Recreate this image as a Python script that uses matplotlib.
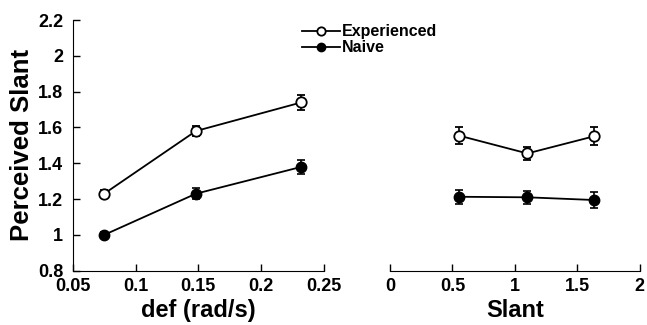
import matplotlib.pyplot as plt
from matplotlib.lines import Line2D

plt.rcParams['font.family'] = ['Liberation Sans', 'DejaVu Sans']
plt.rcParams['font.weight'] = 'bold'

# left panel: deformation
defs = [0.075, 0.148, 0.232]
exp_def = [1.23, 1.58, 1.74]
exp_def_err = [0.02, 0.03, 0.04]
nai_def = [1.00, 1.23, 1.38]
nai_def_err = [0.015, 0.03, 0.04]

# right panel: slant
slants = [0.55, 1.10, 1.63]
exp_sl = [1.555, 1.455, 1.55]
exp_sl_err = [0.045, 0.035, 0.05]
nai_sl = [1.213, 1.21, 1.195]
nai_sl_err = [0.04, 0.035, 0.045]

xt1 = [0.05, 0.1, 0.15, 0.2, 0.25]
xt1_lab = ['0.05', '0.1', '0.15', '0.2', '0.25']
yt = [0.8, 1, 1.2, 1.4, 1.6, 1.8, 2, 2.2]
yt_lab = ['0.8', '1', '1.2', '1.4', '1.6', '1.8', '2', '2.2']
xt2 = [0, 0.5, 1, 1.5, 2]
xt2_lab = ['0', '0.5', '1', '1.5', '2']

fig = plt.figure(figsize=(6.47, 3.25), dpi=100)
ax1 = fig.add_axes([0.1124, 0.167, 0.3884, 0.7714])
ax2 = fig.add_axes([0.6028, 0.167, 0.386, 0.7714])

mk = dict(color='black', lw=1.3, ms=7.5, capsize=3, elinewidth=1.2, capthick=1.2)

ax1.errorbar(defs, exp_def, yerr=exp_def_err, marker='o', mfc='white', mec='black', mew=1.3, **mk)
ax1.errorbar(defs, nai_def, yerr=nai_def_err, marker='o', mfc='black', mec='black', **mk)
ax2.errorbar(slants, exp_sl, yerr=exp_sl_err, marker='o', mfc='white', mec='black', mew=1.3, **mk)
ax2.errorbar(slants, nai_sl, yerr=nai_sl_err, marker='o', mfc='black', mec='black', **mk)

ax1.set_xlim(0.05, 0.25)
ax1.set_ylim(0.8, 2.2)
ax1.set_xticks(xt1)
ax1.set_xticklabels(xt1_lab, fontweight='bold', fontsize=13)
ax1.set_yticks(yt)
ax1.set_yticklabels(yt_lab, fontweight='bold', fontsize=13)
ax1.spines['top'].set_visible(False)
ax1.spines['right'].set_visible(False)
ax1.tick_params(direction='in', length=5, width=1)
ax1.tick_params(axis='x', pad=5)
ax1.tick_params(axis='y', pad=7)
ax1.set_xlabel('def (rad/s)', fontsize=17, fontweight='bold', labelpad=3)
ax1.set_ylabel('Perceived Slant', fontsize=18.5, fontweight='bold', labelpad=3)

ax2.set_xlim(0, 2)
ax2.set_ylim(0.8, 2.2)
ax2.set_xticks(xt2)
ax2.set_xticklabels(xt2_lab, fontweight='bold', fontsize=13)
ax2.set_yticks([])
for s in ['top', 'right', 'left']:
    ax2.spines[s].set_visible(False)
ax2.tick_params(direction='in', length=5, width=1, pad=5)
ax2.set_xlabel('Slant', fontsize=17, fontweight='bold', labelpad=3)

handles = [Line2D([], [], color='black', lw=1.3, marker='o', ms=6, mfc='white', mec='black', mew=1.3),
           Line2D([], [], color='black', lw=1.3, marker='o', ms=6, mfc='black', mec='black')]
fig.legend(handles, ['Experienced', 'Naive'], loc='upper left', bbox_to_anchor=(0.4668, 0.925),
           frameon=False, prop={'size': 11.5, 'weight': 'bold'}, handlelength=2.4,
           handletextpad=0.1, labelspacing=0.05, borderpad=0, borderaxespad=0)

fig.savefig('out.png', dpi=100)
